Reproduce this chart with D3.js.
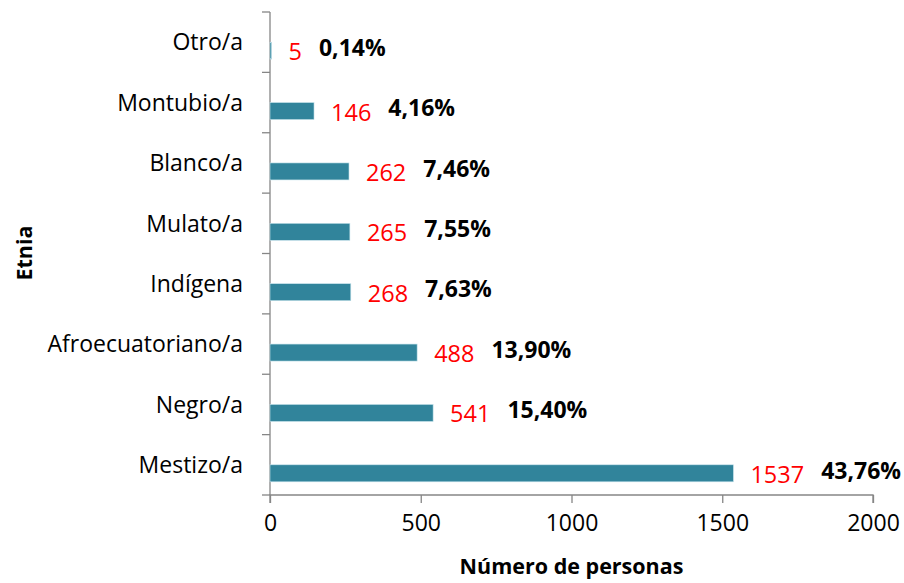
<!DOCTYPE html>
<html lang="es">
<head>
<meta charset="utf-8">
<script src="https://cdn.jsdelivr.net/npm/d3@7"></script>
<style>
  body { margin: 0; background: #fff; }
  text { font-family: "Open Sans", "Noto Sans", sans-serif; }
  .axis path, .axis line { stroke: #868686; stroke-width: 1.3; }
  .axis text { font-size: 23px; fill: #000; }
  .bar { fill: #31849b; stroke: #c6e3ec; stroke-width: 0.6; }
  .val { font-size: 23.5px; fill: #ff0000; }
  .pct { font-size: 23px; font-weight: 700; fill: #000; }
  .title { font-size: 21.5px; font-weight: 700; fill: #000; }
</style>
</head>
<body>
<div id="chart"></div>
<script>
// categories top to bottom
var categorias = ["Otro/a", "Montubio/a", "Blanco/a", "Mulato/a", "Indígena",
                  "Afroecuatoriano/a", "Negro/a", "Mestizo/a"];
var personas = [5, 146, 262, 265, 268, 488, 541, 1537];
var porcentajes = ["0,14%", "4,16%", "7,46%", "7,55%", "7,63%", "13,90%", "15,40%", "43,76%"];
var xTicks = [0, 500, 1000, 1500, 2000];

var W = 904, H = 583;
var margin = {top: 12, right: 31, bottom: 88, left: 270};
var width = W - margin.left - margin.right,
    height = H - margin.top - margin.bottom;

var data = categorias.map(function(c, i) {
  return {cat: c, n: personas[i], pct: porcentajes[i]};
});

var svg = d3.select("#chart").append("svg")
    .attr("width", W)
    .attr("height", H);

var g = svg.append("g")
    .attr("transform", "translate(" + margin.left + "," + margin.top + ")");

var x = d3.scaleLinear().domain([0, 2000]).range([0, width]);
var y = d3.scaleBand().domain(categorias).range([0, height]);
// two slots per category like the excel chart, only the lower one holds the bar
var slot = d3.scaleBand().domain(["pct", "n"]).range([y.bandwidth() / 2 - 17, y.bandwidth() / 2 + 17]);

// y axis with ticks on band edges
var yAxis = g.append("g").attr("class", "axis");
yAxis.append("line").attr("x1", 0).attr("x2", 0).attr("y1", 0).attr("y2", height);
yAxis.selectAll("line.tk")
    .data(d3.range(categorias.length + 1))
  .enter().append("line")
    .attr("class", "tk")
    .attr("x1", -8).attr("x2", 0)
    .attr("y1", function(i) { return i * y.step(); })
    .attr("y2", function(i) { return i * y.step(); });
yAxis.selectAll("text")
    .data(categorias)
  .enter().append("text")
    .attr("x", -27)
    .attr("y", function(d) { return y(d) + y.bandwidth() / 2; })
    .attr("dy", "0.36em")
    .attr("text-anchor", "end")
    .text(function(d) { return d; });

var xAxis = g.append("g")
    .attr("class", "axis")
    .attr("transform", "translate(0," + height + ")")
    .call(d3.axisBottom(x).tickValues(xTicks).tickFormat(d3.format("d"))
      .tickSize(8).tickSizeOuter(8).tickPadding(12));
xAxis.select(".domain").attr("d", "M0,8V0H" + width + "V8");

g.selectAll("rect.bar")
    .data(data)
  .enter().append("rect")
    .attr("class", "bar")
    .attr("x", 0)
    .attr("y", function(d) { return y(d.cat) + slot("n"); })
    .attr("width", function(d) { return x(d.n); })
    .attr("height", slot.bandwidth());

var vals = g.selectAll("text.val")
    .data(data)
  .enter().append("text")
    .attr("class", "val")
    .attr("x", function(d) { return x(d.n) + 17; })
    .attr("y", function(d) { return y(d.cat) + slot("n") + slot.bandwidth() / 2 + 1; })
    .attr("dy", "0.36em")
    .text(function(d) { return d.n; });

vals.each(function(d) {
  var end = x(d.n) + 17 + this.getComputedTextLength();
  g.append("text")
    .attr("class", "pct")
    .attr("x", end + 17)
    .attr("y", y(d.cat) + slot("n") + slot.bandwidth() / 2 - 3)
    .attr("dy", "0.36em")
    .text(d.pct);
});

svg.append("text")
    .attr("class", "title")
    .attr("x", margin.left + width / 2)
    .attr("y", 574)
    .attr("text-anchor", "middle")
    .text("Número de personas");

svg.append("text")
    .attr("class", "title")
    .attr("transform", "translate(32," + 253 + ") rotate(-90)")
    .attr("text-anchor", "middle")
    .text("Etnia");
</script>
</body>
</html>
